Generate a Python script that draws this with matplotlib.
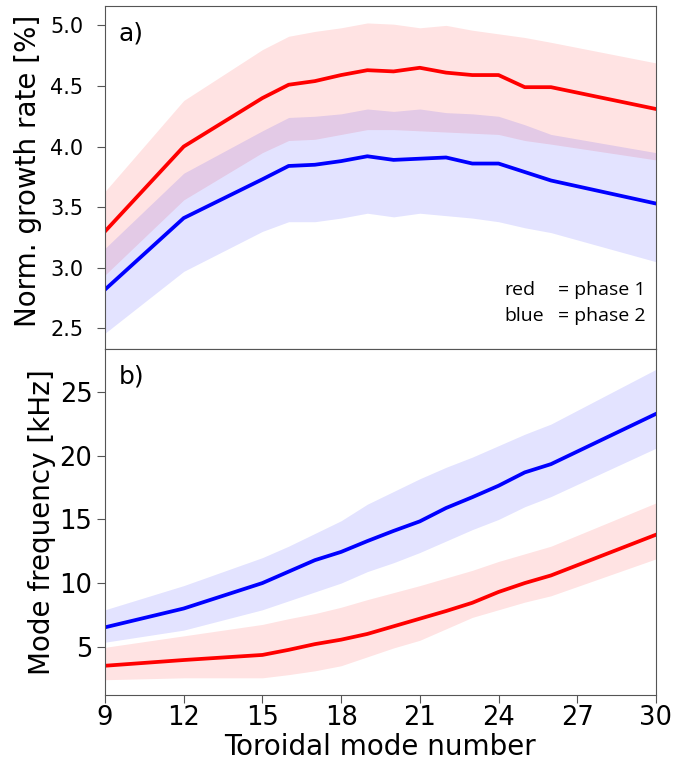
import matplotlib
matplotlib.use('Agg')
import matplotlib.pyplot as plt
import numpy as np

# toroidal mode numbers
n = [9, 12, 15, 16, 17, 18, 19, 20, 21, 22, 23, 24, 25, 26, 30]

# a) normalised growth rate [%]
g_red = [3.30, 4.00, 4.40, 4.51, 4.54, 4.59, 4.63, 4.62, 4.65, 4.61, 4.59, 4.59, 4.49, 4.49, 4.31]
g_red_hi = [3.63, 4.38, 4.80, 4.91, 4.95, 4.98, 5.02, 5.01, 4.98, 5.00, 4.96, 4.93, 4.90, 4.86, 4.69]
g_red_lo = [2.94, 3.56, 3.95, 4.05, 4.06, 4.10, 4.14, 4.14, 4.13, 4.12, 4.11, 4.10, 4.05, 4.02, 3.89]
g_blue = [2.82, 3.41, 3.73, 3.84, 3.85, 3.88, 3.92, 3.89, 3.90, 3.91, 3.86, 3.86, 3.79, 3.72, 3.53]
g_blue_hi = [3.16, 3.78, 4.13, 4.24, 4.25, 4.27, 4.31, 4.29, 4.31, 4.28, 4.27, 4.25, 4.18, 4.10, 3.95]
g_blue_lo = [2.46, 2.97, 3.30, 3.38, 3.38, 3.41, 3.45, 3.42, 3.45, 3.43, 3.41, 3.38, 3.33, 3.29, 3.05]

# b) mode frequency [kHz]
f_red = [3.5, 3.95, 4.35, 4.75, 5.2, 5.55, 6.0, 6.6, 7.2, 7.8, 8.45, 9.3, 10.0, 10.6, 13.8]
f_red_hi = [4.95, 5.85, 6.75, 7.2, 7.6, 8.1, 8.7, 9.25, 9.8, 10.4, 11.0, 11.7, 12.3, 12.9, 16.3]
f_red_lo = [2.4, 2.55, 2.55, 2.8, 3.1, 3.5, 4.2, 4.9, 5.5, 6.4, 7.3, 7.9, 8.5, 9.0, 11.9]
f_blue = [6.52, 8.0, 10.0, 10.9, 11.8, 12.45, 13.3, 14.1, 14.85, 15.9, 16.75, 17.65, 18.7, 19.35, 23.3]
f_blue_hi = [7.9, 9.8, 12.0, 12.9, 13.9, 14.9, 16.2, 17.2, 18.2, 19.1, 19.9, 20.8, 21.7, 22.5, 26.8]
f_blue_lo = [5.35, 6.3, 7.9, 8.6, 9.3, 10.0, 10.9, 11.6, 12.4, 13.3, 14.2, 15.0, 16.0, 16.8, 20.6]

xticks = [9, 12, 15, 18, 21, 24, 27, 30]

plt.rcParams['font.family'] = 'DejaVu Sans'
fig = plt.figure(figsize=(6.87, 7.64), dpi=100)
ax1 = fig.add_axes([0.1528, 0.5432, 0.802, 0.449])
ax2 = fig.add_axes([0.1528, 0.0903, 0.802, 0.4529])

for ax in (ax1, ax2):
    for s in ax.spines.values():
        s.set_color('#555555')
    ax.tick_params(direction='out', length=5.5, color='#555555')
    ax.set_xlim(9, 30)
    ax.set_xticks(xticks)

ax1.fill_between(n, g_red_lo, g_red_hi, color='red', alpha=0.11, lw=0)
ax1.fill_between(n, g_blue_lo, g_blue_hi, color='blue', alpha=0.11, lw=0)
ax1.plot(n, g_red, color='red', lw=2.7)
ax1.plot(n, g_blue, color='blue', lw=2.7)
ax1.set_ylim(2.33, 5.16)
ax1.set_yticks([2.5, 3.0, 3.5, 4.0, 4.5, 5.0])
ax1.tick_params(axis='y', labelsize=15, pad=10)
ax1.tick_params(axis='x', labelbottom=False, length=0)
ax1.set_ylabel('Norm. growth rate [%]', fontsize=20)
ax1.yaxis.set_label_coords(-0.115, 0.52)
ax1.text(0.025, 0.955, 'a)', transform=ax1.transAxes, fontsize=18, va='top')
ax1.text(0.725, 0.07, 'red\nblue', transform=ax1.transAxes,
         fontsize=14, family='Open Sans', va='bottom', linespacing=1.55)
ax1.text(0.822, 0.07, '= phase 1\n= phase 2', transform=ax1.transAxes,
         fontsize=14, family='Open Sans', va='bottom', linespacing=1.55)

ax2.fill_between(n, f_red_lo, f_red_hi, color='red', alpha=0.11, lw=0)
ax2.fill_between(n, f_blue_lo, f_blue_hi, color='blue', alpha=0.11, lw=0)
ax2.plot(n, f_red, color='red', lw=2.7)
ax2.plot(n, f_blue, color='blue', lw=2.7)
ax2.set_ylim(1.2, 28.4)
ax2.set_yticks([5, 10, 15, 20, 25])
ax2.tick_params(labelsize=18.5)
ax2.tick_params(axis='x', pad=2)
ax2.set_ylabel('Mode frequency [kHz]', fontsize=20)
ax2.yaxis.set_label_coords(-0.088, 0.5)
ax2.set_xlabel('Toroidal mode number', fontsize=20)
ax2.xaxis.set_label_coords(0.5, -0.11)
ax2.text(0.025, 0.955, 'b)', transform=ax2.transAxes, fontsize=18, va='top')

fig.savefig('out.png', dpi=100)
